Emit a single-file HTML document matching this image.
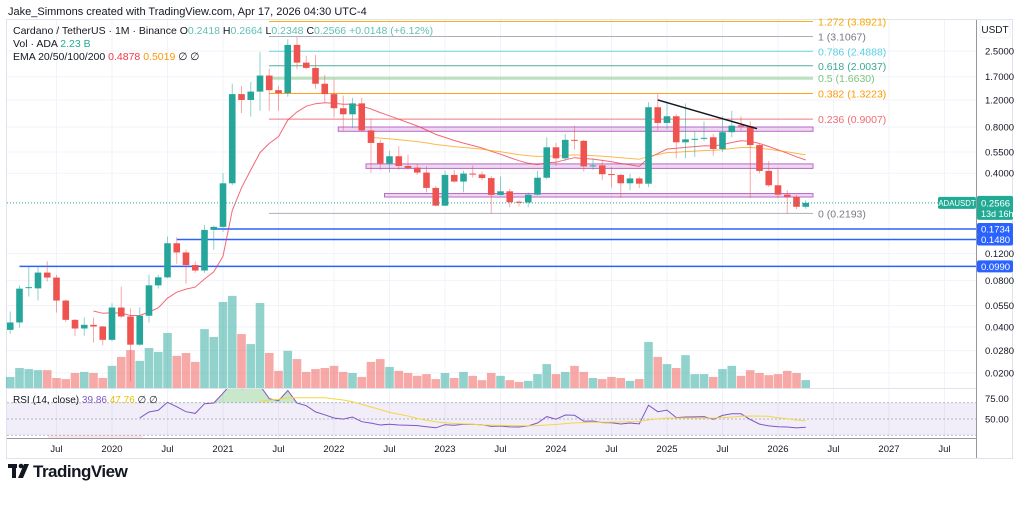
<!DOCTYPE html>
<html><head><meta charset="utf-8"><style>
html,body{margin:0;padding:0;background:#fff;}
body{width:1024px;height:502px;overflow:hidden;font-family:"Liberation Sans",sans-serif;}
svg text{font-family:"Liberation Sans",sans-serif;}
</style></head><body>
<svg id="chart" width="1024" height="502" viewBox="0 0 1024 502" xmlns="http://www.w3.org/2000/svg">
<text x="8" y="15" font-size="11" fill="#131722">Jake_Simmons created with TradingView.com, Apr 17, 2026 04:30 UTC-4</text>
<rect x="6.5" y="19.5" width="1006" height="439" fill="none" stroke="#e0e3eb"/>
<g id="grid"></g>
<g id="fib"></g>
<g id="zones"></g>
<g id="vol"></g>
<g id="ema"></g>
<g id="candles"></g>
<g id="overlay"></g>
<g id="rsi"></g>
<g id="axes"></g>
<g>
<text x="13" y="34" font-size="10.5" fill="#131722">Cardano / TetherUS · 1M · Binance <tspan fill="#131722">O</tspan><tspan fill="#5fbfb2">0.2418</tspan> H<tspan fill="#5fbfb2">0.2664</tspan> L<tspan fill="#5fbfb2">0.2348</tspan> C<tspan fill="#5fbfb2">0.2566</tspan> <tspan fill="#5fbfb2">+0.0148 (+6.12%)</tspan></text>
<text x="13" y="47" font-size="10.5" fill="#131722">Vol · ADA <tspan fill="#22ab94">2.23 B</tspan></text>
<text x="13" y="60" font-size="10.5" fill="#131722">EMA 20/50/100/200 <tspan fill="#f23645">0.4878</tspan> <tspan fill="#ff9800">0.5019</tspan> ∅ ∅</text>
</g>
<g>
<rect x="8" y="464" width="9" height="4" fill="#131722"/><rect x="12" y="464" width="4" height="14" fill="#131722"/>
<circle cx="21" cy="466" r="2.3" fill="#131722"/><polygon points="24,464 29,464 23,478 18,478" fill="#131722"/>
<text x="33" y="477" font-size="17" font-weight="bold" fill="#131722" letter-spacing="-0.5">TradingView</text>
</g>
</svg>
<script>
const opens=[0.0382,0.0427,0.0720,0.0712,0.0902,0.0837,0.0593,0.0444,0.039,0.0412,0.0402,0.0329,0.0534,0.0467,0.0306,0.0472,0.0745,0.084,0.140,0.122,0.101,0.093,0.171,0.179,0.344,1.31,1.2,1.36,1.73,1.39,1.33,2.74,2.10,1.94,1.53,1.31,1.06,0.968,1.14,0.76,0.63,0.463,0.516,0.446,0.435,0.404,0.321,0.246,0.39,0.353,0.398,0.393,0.372,0.289,0.305,0.261,0.258,0.29,0.374,0.59,0.50,0.66,0.65,0.443,0.45,0.395,0.39,0.344,0.37,0.342,1.076,0.85,0.94,0.636,0.66,0.675,0.686,0.575,0.74,0.82,0.81,0.61,0.414,0.334,0.29,0.28,0.2418];
const highs=[0.0503,0.0745,0.099,0.099,0.107,0.087,0.060,0.045,0.046,0.046,0.0405,0.057,0.0731,0.0527,0.0536,0.0875,0.0875,0.155,0.153,0.127,0.107,0.184,0.182,0.40,1.53,1.48,1.57,2.46,1.92,1.48,2.98,3.08,2.33,2.35,1.75,1.63,1.28,1.24,1.24,0.91,0.66,0.56,0.60,0.53,0.46,0.446,0.33,0.415,0.42,0.415,0.45,0.41,0.385,0.38,0.316,0.266,0.30,0.415,0.686,0.63,0.72,0.816,0.66,0.50,0.485,0.44,0.396,0.396,0.38,1.16,1.31,1.17,0.97,1.14,0.75,0.87,0.72,0.94,1.02,0.94,0.87,0.62,0.48,0.435,0.31,0.29,0.2664];
const lows=[0.0360,0.0394,0.063,0.0593,0.0788,0.0495,0.043,0.0349,0.035,0.0315,0.0303,0.0323,0.0458,0.0176,0.0301,0.0427,0.0709,0.083,0.103,0.0765,0.090,0.090,0.127,0.166,0.334,0.987,0.934,1.02,1.02,1.02,1.26,1.90,1.90,1.42,1.16,0.925,0.76,0.79,0.74,0.404,0.42,0.404,0.42,0.42,0.39,0.30,0.244,0.244,0.348,0.30,0.375,0.36,0.2193,0.286,0.24,0.243,0.24,0.286,0.365,0.446,0.48,0.57,0.41,0.42,0.36,0.322,0.276,0.31,0.32,0.325,0.76,0.77,0.50,0.50,0.51,0.65,0.52,0.55,0.686,0.76,0.276,0.40,0.325,0.275,0.219,0.234,0.2348];
const closes=[0.0427,0.0709,0.0725,0.0902,0.0837,0.0593,0.0444,0.039,0.0412,0.0402,0.0329,0.0534,0.0467,0.0306,0.0472,0.0745,0.084,0.140,0.122,0.101,0.093,0.171,0.179,0.344,1.31,1.2,1.36,1.73,1.39,1.33,2.74,2.10,1.94,1.53,1.31,1.06,0.968,1.14,0.76,0.63,0.463,0.516,0.446,0.433,0.404,0.321,0.246,0.39,0.353,0.398,0.392,0.372,0.289,0.305,0.259,0.258,0.29,0.374,0.59,0.50,0.66,0.65,0.443,0.45,0.394,0.39,0.344,0.37,0.342,1.076,0.85,0.94,0.636,0.665,0.67,0.68,0.575,0.74,0.816,0.81,0.61,0.414,0.334,0.29,0.28,0.2418,0.2566];
const volumes=[3.1,5.6,5.3,5.0,5.0,2.8,2.5,4.2,4.5,4.2,2.8,6.2,8.7,10.6,7.6,11.2,10.1,15.4,9.0,9.8,7.3,16.5,14.3,24.1,25.8,15.1,12.3,23.8,9.8,4.8,10.4,8.1,4.5,5.3,5.6,6.2,4.5,4.2,3.1,7.3,8.1,5.9,4.8,4.2,3.4,3.9,2.5,4.2,2.8,4.5,3.4,2.2,4.2,3.4,2.2,1.7,2.0,3.9,6.7,3.9,4.5,6.2,4.5,2.8,2.5,3.1,2.8,2.0,2.5,12.9,8.7,6.7,5.6,9.2,3.9,3.9,3.1,5.3,6.2,3.4,5.0,4.2,3.6,3.9,4.8,4.2,2.23];
const priceTicks=[2.5,1.7,1.2,0.8,0.55,0.4,0.12,0.08,0.055,0.04,0.028,0.02];
const timeTickMonths=[-6,0,6,12,18,24,30,36,42,48,54,60,66,72,78,84,90];
const timeTickLabels=["Jul","2020","Jul","2021","Jul","2022","Jul","2023","Jul","2024","Jul","2025","Jul","2026","Jul","2027","Jul"];
const fibLevels=[1.272,1,0.786,0.618,0.5,0.382,0.236,0];
const fibPrices=[3.8921,3.1067,2.4888,2.0037,1.6630,1.3223,0.9007,0.2193];
const fibColors=["#f7a600","#a3a6af","#5ccfe0","#3aa890","#7cc47f","#ff9800","#f06a75","#a3a6af"];
const zoneLow=[0.75,0.43,0.28];
const zoneHigh=[0.80,0.46,0.295];
const zoneStart=[36,39,41];
const hLines=[0.1734,0.1480,0.0990];
const hLineStart=[22,18,1];
const rsiLevels=[75,50];

const NS="http://www.w3.org/2000/svg";
const L2=Math.log(2.5);
function yP(p){return 51+66.7*(L2-Math.log(p));}
function xM(m){return 112+m*9.25;}
function xI(i){return xM(i-11);}
function yV(v){return 388-v/0.28;}
function yR(r){return 419-(r-50)*0.815;}
function mk(tag,attrs,parent){const e=document.createElementNS(NS,tag);for(const k in attrs)e.setAttribute(k,attrs[k]);parent.appendChild(e);return e;}
const G=id=>document.getElementById(id);

const grid=G('grid');
priceTicks.forEach(p=>{const l=mk('line',{x1:7,x2:976,y1:yP(p),y2:yP(p),stroke:'#f0f3fa'},grid);

});
timeTickMonths.forEach(m=>{const l=mk('line',{x1:xM(m),x2:xM(m),y1:20,y2:438,stroke:'#f0f3fa'},grid);

});

const fib=G('fib');
fibPrices.forEach((p,i)=>{const y=yP(p);
const l=mk('line',{x1:269,x2:813,y1:y,y2:y,stroke:fibColors[i],'stroke-width':i===4?3:1,opacity:i===4?0.5:0.9},fib);


const t=mk('text',{x:818,y:y+4,'font-size':10.5,fill:fibColors[i]==="#a3a6af"?"#787b86":fibColors[i]},fib);
t.textContent=fibLevels[i]+' ('+p.toFixed(4)+')';

});

const zones=G('zones');
zoneLow.forEach((lo,i)=>{const r=mk('rect',{x:xI(zoneStart[i])-5,y:yP(zoneHigh[i]),width:813-xI(zoneStart[i])+5,height:yP(lo)-yP(zoneHigh[i]),fill:'rgba(206,147,216,0.35)',stroke:'#ba68c8','stroke-width':1},zones);

});
hLines.forEach((p,i)=>{const y=yP(p);const l=mk('line',{x1:xI(hLineStart[i]),x2:976,y1:y,y2:y,stroke:'#2962ff','stroke-width':1.5},zones);

});

const vol=G('vol');
volumes.forEach((v,i)=>{const up=closes[i]>=opens[i];
const r=mk('rect',{x:xI(i)-4.3,y:yV(v),width:8.6,height:388-yV(v),fill:up?'rgba(38,166,154,0.5)':'rgba(239,83,80,0.5)'},vol);

});

function ema(n){const k=2/(n+1);let e=closes[0];return closes.map(c=>e=c*k+e*(1-k));}
function drawLine(vals,start,color,name,yf){let d='';for(let i=start;i<vals.length;i++){d+=(i===start?'M':'L')+xI(i).toFixed(1)+','+yf(vals[i]).toFixed(1);}
const p=mk('path',{d:d,fill:'none',stroke:color,'stroke-width':1},G('ema'));

return d;}
drawLine(ema(20),9,'rgba(242,54,69,0.75)','ema-20-line',yP);
drawLine(ema(50),39,'rgba(255,152,0,0.7)','ema-50-line',yP);

const cg=G('candles');
opens.forEach((o,i)=>{const c=closes[i],up=c>=o,col=up?'#26a69a':'#ef5350',x=xI(i);
const w=mk('line',{x1:x,x2:x,y1:yP(highs[i]),y2:yP(lows[i]),stroke:up?'rgba(38,166,154,0.5)':'rgba(239,83,80,0.5)','stroke-width':1},cg);


const t=Math.min(yP(o),yP(c)),h=Math.max(1,Math.abs(yP(o)-yP(c)));
const b=mk('rect',{x:x-3.3,y:t,width:6.6,height:h,fill:col},cg);

});

const ov=G('overlay');
const tl=mk('line',{x1:xI(70),y1:yP(1.2),x2:757,y2:yP(0.78),stroke:'#131722','stroke-width':1.5},ov);


const last=closes[closes.length-1],ly=yP(last);
const pl=mk('line',{x1:7,x2:976,y1:ly,y2:ly,stroke:'#26a69a','stroke-dasharray':'1 2','stroke-width':1},ov);



const rg=G('rsi');
const band=mk('rect',{x:7,y:yR(70),width:969,height:yR(30)-yR(70),fill:'rgba(126,87,194,0.1)'},rg);


[70,50,30].forEach(r=>{const l=mk('line',{x1:7,x2:976,y1:yR(r),y2:yR(r),stroke:'#b2b5be','stroke-dasharray':'2 2'},rg);

});
const os=mk('rect',{x:48,y:yR(30),width:95,height:438-yR(30),fill:'rgba(242,54,69,0.12)'},rg);


const rsi=new Array(closes.length).fill(null);let ag=0,al=0;
for(let i=1;i<closes.length;i++){const ch=closes[i]-closes[i-1],g=Math.max(ch,0),l=Math.max(-ch,0);
if(i<=14){ag+=g/14;al+=l/14;if(i===14)rsi[i]=100-100/(1+ag/al);}
else{ag=(ag*13+g)/14;al=(al*13+l)/14;rsi[i]=100-100/(1+ag/(al||1e-9));}}
const rma=rsi.map((v,i)=>{if(i<27)return null;let s=0;for(let j=i-13;j<=i;j++)s+=rsi[j];return s/14;});
const defs=mk('defs',{},rg);const cp=mk('clipPath',{id:'rsiclip'},defs);mk('rect',{x:7,y:389,width:969,height:49},cp);
const cpo=mk('clipPath',{id:'obclip'},defs);mk('rect',{x:7,y:389,width:969,height:yR(70)-389},cpo);
const gA=mk('g',{'clip-path':'url(#rsiclip)'},rg);
let d='';for(let i=14;i<rsi.length;i++)d+=(i===14?'M':'L')+xI(i).toFixed(1)+','+yR(rsi[i]).toFixed(1);
const ob=mk('path',{d:d+'L'+xI(rsi.length-1)+','+yR(70)+'L'+xI(14)+','+yR(70)+'Z',fill:'rgba(76,175,80,0.3)','clip-path':'url(#obclip)'},gA);


const rp=mk('path',{d:d,fill:'none',stroke:'#7e57c2','stroke-width':1},gA);


let d2='';for(let i=27;i<rma.length;i++)d2+=(i===27?'M':'L')+xI(i).toFixed(1)+','+yR(rma[i]).toFixed(1);
const mp=mk('path',{d:d2,fill:'none',stroke:'#f5d742','stroke-width':1},gA);


const rt=mk('text',{x:13,y:403,'font-size':10,fill:'#131722'},rg);
rt.innerHTML='RSI (14, close) <tspan fill="#7e57c2">39.86</tspan> <tspan fill="#e6c300">47.76</tspan> ∅ ∅';



const ax=G('axes');
const sep=mk('line',{x1:7,x2:976,y1:388.5,y2:388.5,stroke:'#e0e3eb'},ax);


const ta=mk('line',{x1:7,x2:976,y1:438.5,y2:438.5,stroke:'#9598a1'},ax);


const ra=mk('line',{x1:976.5,x2:976.5,y1:20,y2:458,stroke:'#9598a1'},ax);


const ub=mk('rect',{x:980,y:20,width:30,height:18,rx:3,fill:'#fff',stroke:'#f0f3fa'},ax);


const ut=mk('text',{x:995,y:33,'font-size':10,fill:'#131722','text-anchor':'middle'},ax);ut.textContent='USDT';


priceTicks.forEach(p=>{const t=mk('text',{x:985,y:yP(p)+3.5,'font-size':9.5,fill:'#131722'},ax);t.textContent=p.toFixed(4);

});
rsiLevels.forEach(r=>{const t=mk('text',{x:985,y:yR(r)+3.5,'font-size':9.5,fill:'#131722'},ax);t.textContent=r.toFixed(2);

});
timeTickMonths.forEach((m,i)=>{const t=mk('text',{x:xM(m),y:452,'font-size':9.5,fill:'#131722','text-anchor':'middle'},ax);t.textContent=timeTickLabels[i];

});
const tg=mk('rect',{x:938,y:ly-6,width:38,height:12,rx:2,fill:'#22ab94'},ax);


const tgt=mk('text',{x:957,y:ly+3,'font-size':7.8,fill:'#fff','text-anchor':'middle'},ax);tgt.textContent='ADAUSDT';


const pb=mk('rect',{x:977,y:ly-7,width:36,height:24,rx:2,fill:'#22ab94'},ax);


const pt=mk('text',{x:981,y:ly+3.5,'font-size':9.5,fill:'#fff'},ax);pt.textContent=last.toFixed(4);


const pt2=mk('text',{x:981,y:ly+14,'font-size':9,fill:'#fff'},ax);pt2.textContent='13d 16h';


hLines.forEach(p=>{const y=yP(p);const r=mk('rect',{x:977,y:y-6,width:36,height:12,rx:2,fill:'#2962ff'},ax);


const t=mk('text',{x:981,y:y+3.5,'font-size':9.5,fill:'#fff'},ax);t.textContent=p.toFixed(4);

});
</script>
</body></html>
